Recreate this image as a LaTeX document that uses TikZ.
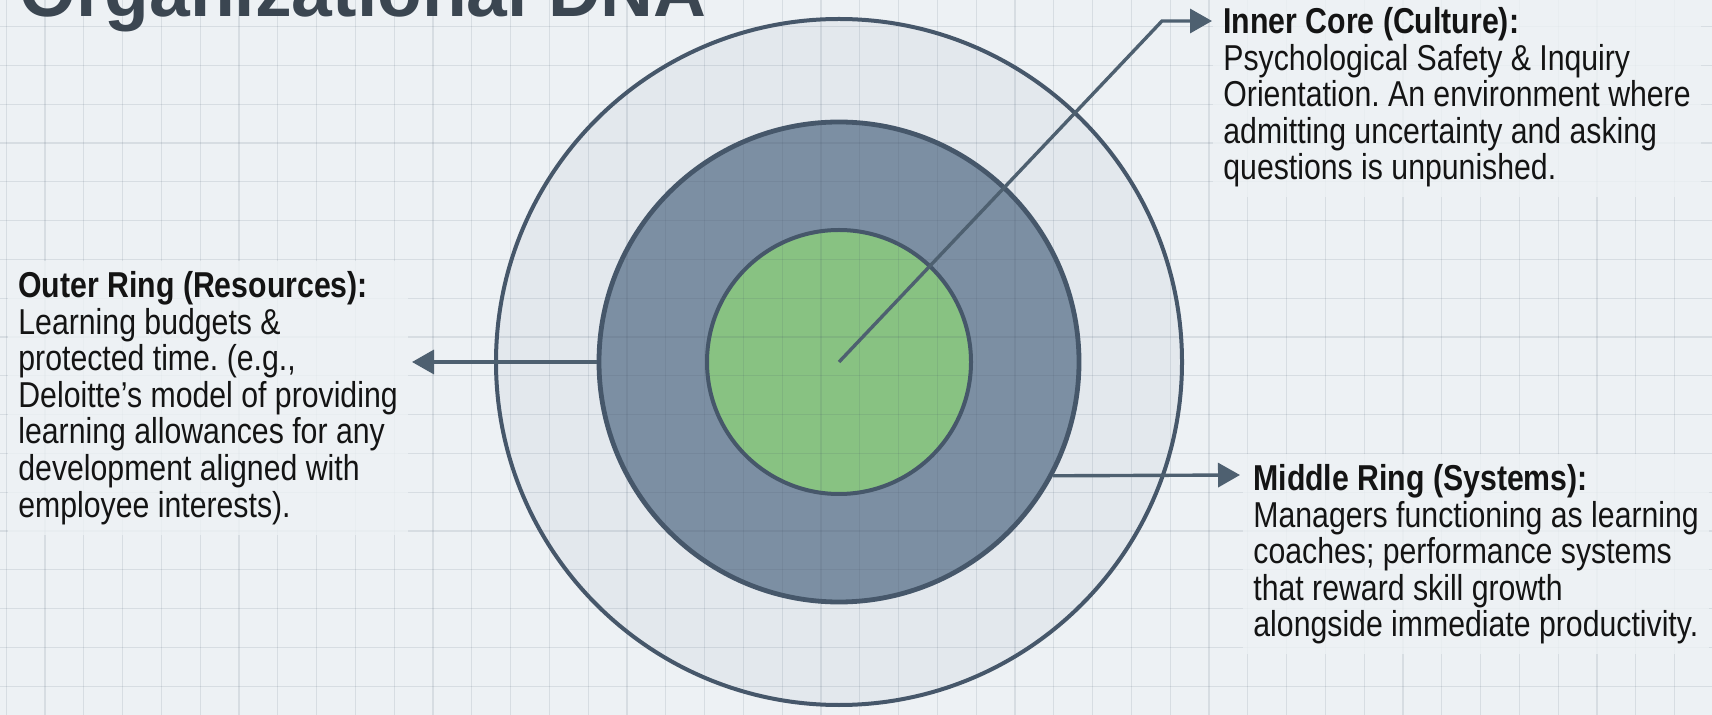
\documentclass[tikz,border=0pt]{standalone}
\usepackage{fontspec}
\usepackage{tikz}
\usepackage{xcolor}
\usetikzlibrary{arrows.meta}
\setmainfont{Liberation Sans}
\newfontfamily\narrowfont{Liberation Sans}[FakeStretch=0.84]
\frenchspacing

\definecolor{paper}{HTML}{EDF1F4}
\definecolor{ringline}{HTML}{46576A}
\definecolor{outerfill}{HTML}{E3E8ED}
\definecolor{midfill}{HTML}{7C8FA3}
\definecolor{corefill}{HTML}{88C282}
\definecolor{titleink}{HTML}{3B4651}
\definecolor{arrowink}{HTML}{4E6070}

\tikzset{
  ring/.style={circle, draw=ringline, line width=2pt, inner sep=0pt},
  gridstroke/.style={draw=ringline, draw opacity=0.13, line width=0.6pt},
  pointer/.style={draw=arrowink, line width=1.7pt, -{Triangle[length=11pt,width=12pt]}},
  blurb/.style={anchor=north west, align=left, inner sep=5pt, fill=paper, fill opacity=0.8, text opacity=1, text=black!92, font=\narrowfont\fontsize{18}{18.3}\selectfont},
}

\begin{document}
\begin{tikzpicture}[x=0.5pt,y=0.5pt,yscale=-1,xscale=1]
\useasboundingbox (0,0) rectangle (1712,715);
\fill[paper] (0,0) rectangle (1712,715);

%Rings
\node[ring, fill=outerfill, minimum size=343pt] (outer) at (839,362) {};
\node[ring, fill=midfill, line width=2.4pt, minimum size=240pt] (middle) at (839,362) {};
\node[ring, fill=corefill, minimum size=132pt] (core) at (839,362) {};

%Grid
\foreach \gx in {0,...,44} \draw[gridstroke] (6.2+38.8*\gx,0) -- (6.2+38.8*\gx,715);
\foreach \gy in {0,...,18} \draw[gridstroke] (0,26.6+38.8*\gy-38.8) -- (1712,26.6+38.8*\gy-38.8);

% Title
\node[anchor=base west, inner sep=0pt, text=titleink, font=\bfseries\fontsize{36.6}{40}\selectfont] (title) at (19,17) {Organizational DNA};

% Text Node
\node[blurb] (coreTxt) at (1213,-3) {\textbf{Inner Core (Culture):}\\Psychological Safety \& Inquiry\\Orientation. An environment where\\admitting uncertainty and asking\\questions is unpunished.};
% Text Node
\node[blurb] (outerTxt) at (8,261) {\textbf{Outer Ring (Resources):}\\Learning budgets \&\\protected time. (e.g.,\\Deloitte’s model of providing\\learning allowances for any\\development aligned with\\employee interests).};
% Text Node
\node[blurb] (midTxt) at (1243,454) {\textbf{Middle Ring (Systems):}\\Managers functioning as learning\\coaches; performance systems\\that reward skill growth\\alongside immediate productivity.};

%Pointers
\coordinate (bend) at (1162,21);
\coordinate (coreTip) at (1212,21);
\coordinate (outerTip) at (412,362);
\coordinate (midTip) at (1240,475);
\draw[pointer] (core.center) -- (bend) -- (coreTip);
\draw[pointer] (middle.west) -- (outerTip);
\draw[pointer] (middle.-28) -- (midTip);
\end{tikzpicture}
\end{document}
